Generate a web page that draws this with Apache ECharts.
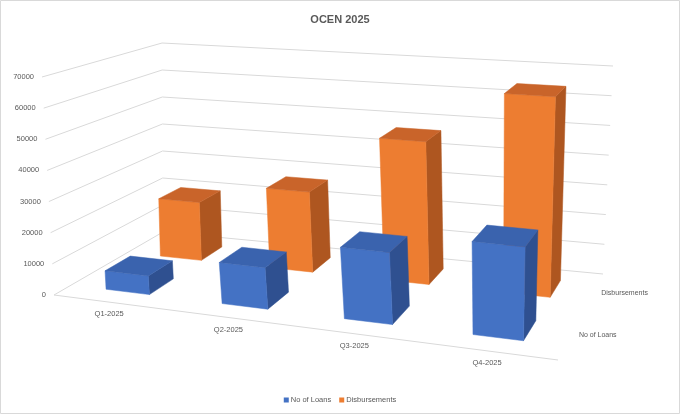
<!DOCTYPE html>
<html>
<head>
<meta charset="UTF-8">
<title>OCEN 2025</title>
<script src="https://cdn.jsdelivr.net/npm/echarts@6/dist/echarts.min.js"></script>
<style>html,body{margin:0;padding:0;background:#fff;}</style>
</head>
<body>
	<div id="main" style="width: 680px; height: 414px;"></div>

	<script type="text/javascript">
		var categories = ['Q1-2025', 'Q2-2025', 'Q3-2025', 'Q4-2025'];
		var seriesNames = ['No of Loans', 'Disbursements'];
		var loans = [6000, 13000, 22000, 28000];
		var disbursements = [20000, 27000, 47000, 64500];
		var yTicks = [0, 10000, 20000, 30000, 40000, 50000, 60000, 70000];

		var FONT = '"Liberation Sans", sans-serif';
		var TXT = '#595959';
		var GRID = '#D9D9D9';

		// screen corners of the 3d box: front-left, front-right, back-right, back-left
		var FLOOR = [[54, 295], [558, 360], [603, 274], [163, 232]];
		var ROOF = [[42, 77], [568, 119], [613, 66], [162, 43]];
		var BAR_W = 0.38, BAR_D = 0.22;
		var U_BEND = 0.1; // evens out the spacing of the categories a bit

		// unit square -> quad (projective)
		function quadMap(q) {
			var x0 = q[0][0], y0 = q[0][1], x1 = q[1][0], y1 = q[1][1];
			var x2 = q[2][0], y2 = q[2][1], x3 = q[3][0], y3 = q[3][1];
			var dx1 = x1 - x2, dx2 = x3 - x2, dx3 = x0 - x1 + x2 - x3;
			var dy1 = y1 - y2, dy2 = y3 - y2, dy3 = y0 - y1 + y2 - y3;
			var den = dx1 * dy2 - dx2 * dy1;
			var g = (dx3 * dy2 - dx2 * dy3) / den;
			var h = (dx1 * dy3 - dx3 * dy1) / den;
			var a = x1 - x0 + g * x1, b = x3 - x0 + h * x3, c = x0;
			var d = y1 - y0 + g * y1, e = y3 - y0 + h * y3, f = y0;
			return function (u, v) {
				var w = g * u + h * v + 1;
				return [(a * u + b * v + c) / w, (d * u + e * v + f) / w];
			};
		}
		var floorMap = quadMap(FLOOR), roofMap = quadMap(ROOF);
		function proj(u, v, h) {
			u = u + U_BEND * u * (1 - u);
			var b = floorMap(u, v), t = roofMap(u, v);
			return [b[0] + (t[0] - b[0]) * h, b[1] + (t[1] - b[1]) * h];
		}
		// value -> unit box coords through the (hidden) cartesian axes
		function norm(params, api, cat, val) {
			var cs = params.coordSys;
			var p = api.coord([cat, val]);
			return [(p[0] - cs.x) / cs.width, (cs.y + cs.height - p[1]) / cs.height];
		}
		function poly(pts, color) {
			return { type: 'polygon', shape: { points: pts }, style: { fill: color, stroke: color, lineWidth: 0.5 } };
		}
		function text(str, x, y, align, size) {
			return { type: 'text', style: { text: str, x: x, y: y, align: align, verticalAlign: 'middle', fill: TXT, font: (size || 7.5) + 'px ' + FONT } };
		}

		function barRenderer(row, colors) {
			return function (params, api) {
				var n = norm(params, api, api.value(0), api.value(1));
				var half = api.size([1, 0])[0] / params.coordSys.width * BAR_W / 2;
				var u0 = n[0] - half, u1 = n[0] + half, h = n[1];
				var vc = (row + 0.5) / 2, v0 = vc - BAR_D / 2, v1 = vc + BAR_D / 2;
				var front = [proj(u0, v0, 0), proj(u1, v0, 0), proj(u1, v0, h), proj(u0, v0, h)];
				var top = [proj(u0, v0, h), proj(u1, v0, h), proj(u1, v1, h), proj(u0, v1, h)];
				var side = [proj(u1, v0, 0), proj(u1, v1, 0), proj(u1, v1, h), proj(u1, v0, h)];
				return { type: 'group', children: [poly(side, colors[2]), poly(front, colors[0]), poly(top, colors[1])] };
			};
		}

		function wallRenderer(params, api) {
			var val = api.value(1);
			var h = norm(params, api, 0, val)[1];
			var a = proj(0, 0, h), b = proj(0, 1, h), c = proj(1, 1, h);
			var kids = [
				{ type: 'polyline', shape: { points: [a, b, c] }, style: { stroke: GRID, lineWidth: 1, fill: null } },
				text(String(val), a[0] - 8, a[1], 'right')
			];
			if (val === 0) {
				var e = proj(1, 0, 0);
				kids.push({ type: 'line', shape: { x1: a[0], y1: a[1], x2: e[0], y2: e[1] }, style: { stroke: GRID, lineWidth: 1 } });
				seriesNames.forEach(function (s, i) {
					var p = proj(1, (i + 0.5) / 2, 0);
					kids.push(text(s, p[0] + 8, p[1], 'left', 7));
				});
			}
			return { type: 'group', children: kids };
		}

		function catRenderer(params, api) {
			var n = norm(params, api, api.value(0), 0);
			var p = proj(n[0], 0, 0);
			return text(categories[api.value(0)], p[0] - 2, p[1] + 12, 'center');
		}

		var myChart = echarts.init(document.getElementById('main'));
		myChart.setOption({
			animation: false,
			title: {
				text: 'OCEN 2025',
				left: 'center',
				top: 9,
				textStyle: { fontSize: 11, fontWeight: 'bold', color: TXT, fontFamily: FONT }
			},
			legend: {
				data: seriesNames,
				bottom: 5,
				icon: 'rect',
				itemWidth: 5,
				itemHeight: 5,
				itemGap: 8,
				textStyle: { fontSize: 7.5, color: TXT, fontFamily: FONT, padding: [0, 0, 0, -3] }
			},
			graphic: [{
				type: 'rect', shape: { x: 0.5, y: 0.5, width: 679, height: 413 },
				style: { fill: null, stroke: GRID, lineWidth: 1 }, silent: true
			}],
			grid: { left: 0, top: 0, width: 400, height: 280, show: false },
			xAxis: { type: 'category', data: categories, show: false },
			yAxis: { type: 'value', min: 0, max: 70000, interval: 10000, show: false },
			series: [{
				type: 'custom', name: 'walls', z: 1, silent: true,
				renderItem: wallRenderer,
				data: yTicks.map(function (v) { return [0, v]; })
			}, {
				type: 'custom', name: 'cats', z: 1, silent: true,
				renderItem: catRenderer,
				data: categories.map(function (c, i) { return [i, 0]; })
			}, {
				type: 'custom', name: seriesNames[1], z: 2,
				itemStyle: { color: '#ED7D31' },
				renderItem: barRenderer(1, ['#ED7D31', '#C9642A', '#AE5620']),
				data: disbursements.map(function (v, i) { return [i, v]; })
			}, {
				type: 'custom', name: seriesNames[0], z: 3,
				itemStyle: { color: '#4472C4' },
				renderItem: barRenderer(0, ['#4472C4', '#3A63AE', '#2F5090']),
				data: loans.map(function (v, i) { return [i, v]; })
			}]
		});
	</script>
</body>
</html>
